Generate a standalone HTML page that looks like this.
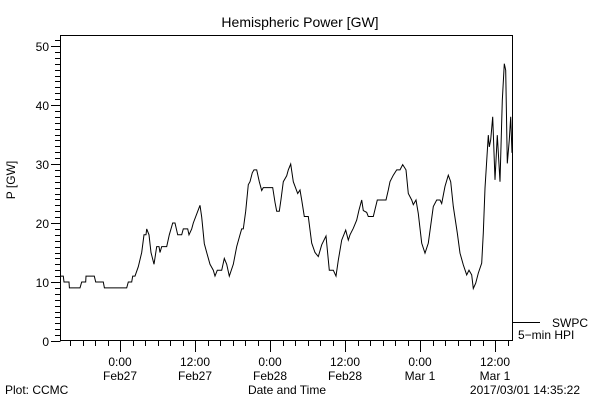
<!DOCTYPE html>
<html><head><meta charset="utf-8"><style>
html,body{margin:0;padding:0;background:#fff;}
svg{display:block;font-family:"Liberation Sans",sans-serif;}
text{fill:#000;font-size:12px;}
</style></head><body>
<svg id="chart" width="600" height="400" viewBox="0 0 600 400">
<text x="300" y="27" text-anchor="middle" font-size="14" style="font-size:14px">Hemispheric Power [GW]</text>
<rect x="60.5" y="35.5" width="452" height="305" fill="none" stroke="#000"/>
<g id="axes"></g>
<path id="series" fill="none" stroke="#000" stroke-width="1"/>
<text x="15" y="180" transform="rotate(-90 15 180)" text-anchor="middle">P [GW]</text>
<line x1="513" y1="322.5" x2="540" y2="322.5" stroke="#000"/>
<text x="552" y="327">SWPC</text>
<text x="518" y="339">5−min HPI</text>
<text x="5" y="394">Plot: CCMC</text>
<text x="287" y="394" text-anchor="middle">Date and Time</text>
<text x="580" y="394" text-anchor="end">2017/03/01 14:35:22</text>
</svg>
<script>
// hours relative to 2017-02-27 00:00 UT
const times = [-9.44,-9.07,-8.96,-8.16,-8.1,-6.4,-6.13,-5.49,-5.44,-4.11,-3.89,-2.67,-2.5,1.07,1.33,1.87,2.03,2.4,2.93,3.47,3.84,4.16,4.27,4.64,4.96,5.44,5.87,6.24,6.4,6.67,7.47,7.89,8.43,8.8,9.23,9.87,10.13,10.83,11.04,11.47,11.73,12.8,13.07,13.49,13.87,14.4,14.93,15.2,15.57,16.27,16.69,17.07,17.49,18.13,18.67,19.2,19.47,19.73,20.11,20.53,20.8,21.17,21.44,21.87,22.29,22.67,22.93,24.43,24.8,25.07,25.49,25.76,26.13,26.67,26.93,27.31,27.73,28.43,28.8,29.07,29.49,30.13,30.67,31.2,31.73,32.27,32.96,33.49,34.13,34.56,34.93,35.47,36.11,36.53,36.8,37.33,37.87,38.24,38.67,38.93,39.47,39.73,40.53,41.17,42.56,42.93,43.2,43.73,44.27,44.8,45.23,45.76,46.13,46.67,46.93,47.36,47.73,48.27,48.8,49.33,50.13,50.67,51.2,51.47,52,52.53,52.91,53.33,53.97,54.4,54.93,55.47,55.84,56.27,56.53,56.91,57.33,57.87,58.13,58.4,58.93,59.09,59.31,59.63,60,60.37,60.8,61.17,61.49,61.71,61.97,62.29,62.51,62.72];
const power = [11,11,10,10,9,9,10,10,11,11,10,10,9,9,10,10,11,11,12.6,15,18,18,19,18,15,13,16,16,15,16,16,18,20,20,18,18,19,19,18,19,20,23,21,16.5,15,13,12,11,12,12,14,13,11,13,16,18,19,19,22,26.5,27,28.5,29,29,27,25.5,26,26,23.5,22,22,24,27,28,29,30,27,25,25.6,23.9,21.1,21.1,16.6,15,14.3,16.3,17.8,12,12,11,13.7,17.1,18.8,17.1,18,19.1,20.5,22.2,23.9,22.1,21.8,21.1,21.1,23.9,23.9,25.6,27,28.1,29,29,29.9,29,25,23.9,23.1,23.9,21.6,16.6,14.9,16.6,22.8,23.9,23.9,23.3,26.2,28.1,27,22.8,18.3,14.9,12.9,11.2,12,11.2,8.9,9.8,11.5,13.2,18.3,25.9,34.9,32.9,34.1,38,27.3,34.9,27,40.8,47,45.9,30.1,34.1,38,31.9];
const yTicks = [0,10,20,30,40,50];
const xTickHours = [0,12,24,36,48,60];
const xTickTime = ["0:00","12:00","0:00","12:00","0:00","12:00"];
const xTickDate = ["Feb27","Feb27","Feb28","Feb28","Mar 1","Mar 1"];

const X0=60.5, X1=512.5, Y0=340.5;
const xScale = h => 120 + h*6.25;
const yScale = v => 341 - v*5.9;
const NS="http://www.w3.org/2000/svg";
const axes=document.getElementById('axes');
function ln(x1,y1,x2,y2,name){const l=document.createElementNS(NS,'line');l.setAttribute('x1',x1);l.setAttribute('y1',y1);l.setAttribute('x2',x2);l.setAttribute('y2',y2);l.setAttribute('stroke','#000');


axes.appendChild(l);}
function tx(x,y,s,anchor,name){const t=document.createElementNS(NS,'text');t.setAttribute('x',x);t.setAttribute('y',y);t.setAttribute('text-anchor',anchor);t.textContent=s;


axes.appendChild(t);}
for(let v=0;v<=51;v++){const y=Math.round(yScale(v))+0.5;ln(v%10===0?51:55,y,X0,y,'y-tick');}
yTicks.forEach(v=>tx(49,yScale(v)+5,String(v),'end','y-tick-label'));
for(let h=-8;h<=62;h+=2){const x=Math.round(xScale(h))+0.5;ln(x,Y0,x,h%12===0?352:346,'x-tick');}
xTickHours.forEach((h,i)=>{tx(xScale(h),366,xTickTime[i],'middle','x-tick-label');tx(xScale(h),380,xTickDate[i],'middle','x-tick-date');});
document.getElementById('series').setAttribute('d',times.map((t,i)=>(i?'L':'M')+xScale(t).toFixed(1)+' '+yScale(power[i]).toFixed(1)).join(' '));
</script>
</body></html>
